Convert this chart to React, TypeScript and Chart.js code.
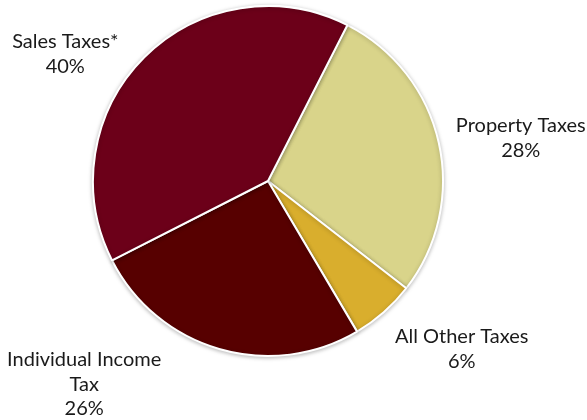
import React, { useEffect, useRef } from "react";
import { Chart, registerables } from "chart.js";

Chart.register(...registerables);

const categories = ["Property Taxes", "All Other Taxes", "Individual Income Tax", "Sales Taxes*"];
const labelLines = [["Property Taxes"], ["All Other Taxes"], ["Individual Income", "Tax"], ["Sales Taxes*"]];
const values = [28, 6, 26, 40];
const percentLabels = ["28%", "6%", "26%", "40%"];
const colors = ["#D9D48A", "#D9AE2D", "#570000", "#6C0019"];

// label nudges (px) from the arc's outer edge at its mid angle
const labelNudges = [
  [82, -5],
  [78, 37],
  [-135, 35],
  [-79, -3],
];

const outsideLabels = {
  id: "outsideLabels",
  afterDatasetsDraw(chart: any) {
    const ctx = chart.ctx;
    const meta = chart.getDatasetMeta(0);
    ctx.save();
    ctx.font = "20px Lato";
    ctx.fillStyle = "#1a1a1a";
    ctx.textAlign = "center";
    ctx.textBaseline = "middle";
    const lh = 24.5;
    meta.data.forEach((arc: any, i: number) => {
      const { x, y, startAngle, endAngle, outerRadius } = arc.getProps(
        ["x", "y", "startAngle", "endAngle", "outerRadius"],
        true
      );
      const mid = (startAngle + endAngle) / 2;
      const ax = x + Math.cos(mid) * outerRadius + labelNudges[i][0];
      const ay = y + Math.sin(mid) * outerRadius + labelNudges[i][1];
      const lines = [...labelLines[i], percentLabels[i]];
      const top = ay - ((lines.length - 1) * lh) / 2;
      lines.forEach((t, k) => ctx.fillText(t, ax, top + k * lh));
    });
    ctx.restore();
  },
};

const shadowPlugin = {
  id: "pieShadow",
  beforeDatasetsDraw(chart: any) {
    const ctx = chart.ctx;
    ctx.save();
    ctx.shadowColor = "rgba(0,0,0,0.25)";
    ctx.shadowBlur = 4;
    ctx.shadowOffsetX = 0;
    ctx.shadowOffsetY = 1;
  },
  afterDatasetsDraw(chart: any) {
    chart.ctx.restore();
  },
};

export default function App() {
  const ref = useRef<HTMLCanvasElement | null>(null);
  useEffect(() => {
    if (!ref.current) return;
    const chart = new Chart(ref.current, {
      type: "pie",
      data: {
        labels: categories,
        datasets: [
          {
            data: values,
            backgroundColor: colors,
            borderColor: "#ffffff",
            borderWidth: 2,
          },
        ],
      },
      options: {
        animation: false,
        responsive: false,
        rotation: 27,
        layout: { padding: { left: 92, right: 143, top: 5, bottom: 63 } },
        plugins: {
          legend: { display: false },
          tooltip: { enabled: false },
        },
      },
      plugins: [shadowPlugin, outsideLabels],
    });
    return () => chart.destroy();
  }, []);
  return (
    <div style={{ position: "fixed", left: 0, top: 0, width: 587, height: 420, background: "#fff" }}>
      <canvas ref={ref} width={587} height={420} style={{ width: 587, height: 420 }} />
    </div>
  );
}
